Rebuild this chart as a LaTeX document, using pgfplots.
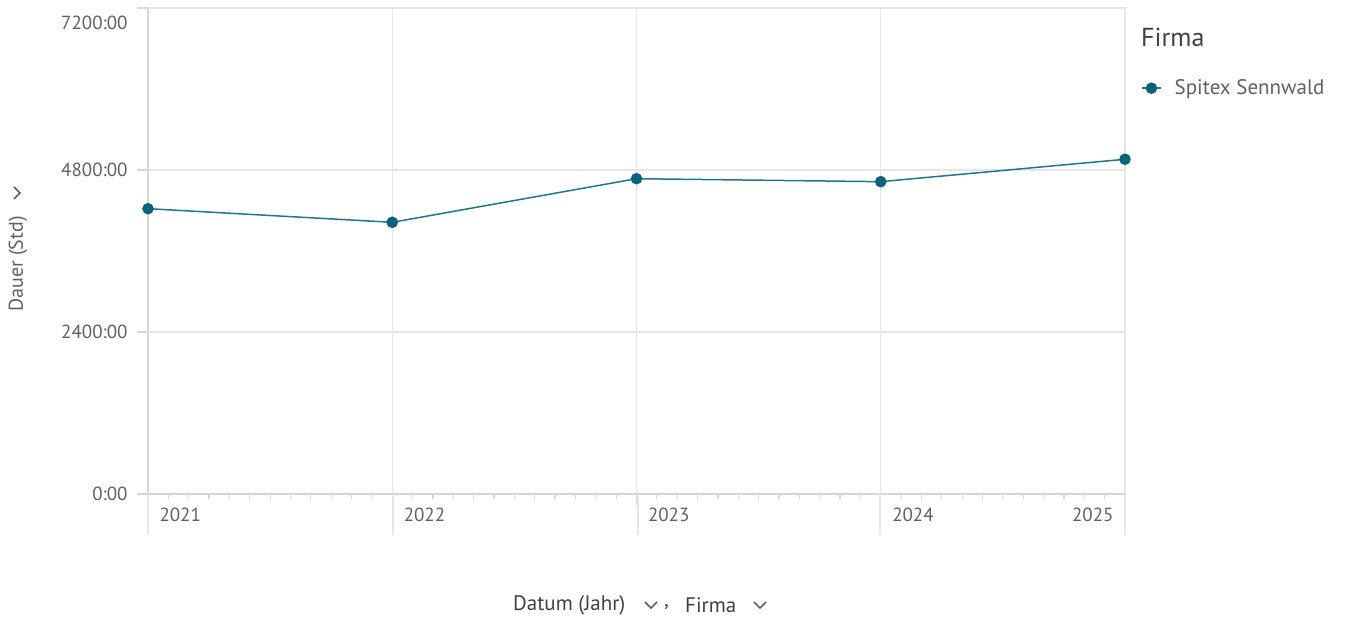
\documentclass[border=0pt]{standalone}
\usepackage{fontspec}
\setmainfont{PT Sans}
\usepackage{pgfplots}
\pgfplotsset{compat=1.18}
\definecolor{serie}{RGB}{30,118,143}
\definecolor{seriemark}{RGB}{8,98,124}
\definecolor{gridc}{RGB}{230,230,230}
\definecolor{axisc}{RGB}{214,214,214}
\definecolor{tick}{RGB}{96,96,96}
\definecolor{ttl}{RGB}{64,64,64}
\begin{document}
\begin{tikzpicture}
\useasboundingbox (0bp,0bp) rectangle (1350bp,619bp);
\begin{axis}[
  at={(148bp,125bp)}, anchor=south west,
  scale only axis, width=977bp, height=486bp,
  xmin=2021, xmax=2025, ymin=0, ymax=7200,
  clip=false,
  axis line style={axisc, line width=1.2bp},
  grid=major, grid style={gridc, line width=1.2bp},
  tick align=outside, major tick length=11bp, minor tick length=5bp,
  tick style={axisc, line width=1.2bp},
  xtick pos=bottom, ytick pos=left,
  xtick={2021,2022,2023,2024,2025},
  xticklabels={2021,2022,2023,2024,{}},
  minor x tick num=11,
  extra x ticks={2025}, extra x tick labels={2025},
  extra x tick style={xticklabel style={anchor=north east, xshift=-16bp}},
  xticklabel style={anchor=north west, xshift=8bp, yshift=1bp},
  ytick={0,2400,4800},
  yticklabels={0:00,2400:00,4800:00},
  extra y ticks={7200}, extra y tick labels={7200:00},
  extra y tick style={yticklabel style={anchor=north east, yshift=-4bp}},
  yticklabel style={xshift=-6bp},
  ticklabel style={font=\fontsize{19bp}{22bp}\selectfont, text=tick},
  legend style={at={(1.0164,0.835)}, anchor=west, draw=none, fill=none,
    inner sep=0pt, font=\fontsize{21bp}{25bp}\selectfont, text=tick},
  legend cell align=left,
  legend image code/.code={
    \draw[#1,mark=none] (0bp,0bp) -- (19bp,0bp);
    \draw[#1] plot coordinates {(9.5bp,0bp)};
  },
]
\addplot[serie, line width=1.5bp, mark=*, mark size=5bp,
  mark options={fill=seriemark, draw=seriemark}] coordinates {
  (2021,4227) (2022,4025) (2023,4671) (2024,4627) (2025,4959)
};
\addlegendentry{\hspace{11bp}Spitex Sennwald}
\end{axis}
% grid lines run on below the x axis
\foreach \gx in {148,393,638,880,1125}{
  \draw[gridc, line width=1.2bp] (\gx bp,125bp) -- (\gx bp,84bp);
}
% legend title
\node[anchor=west, inner sep=0pt, text=ttl, font=\fontsize{26bp}{30bp}\selectfont]
  at (1141bp,582bp) {Firma};
% y axis title with chevron
\node[rotate=90, inner sep=0pt, text=tick, font=\fontsize{20bp}{24bp}\selectfont]
  at (18bp,355bp) {Dauer (Std)};
\draw[tick, line width=1.5bp] (14bp,432bp) -- (20bp,426bp) -- (14bp,420bp);
% x axis title with chevrons
\begin{scope}[font=\fontsize{21bp}{25bp}\selectfont]
\node[anchor=west, inner sep=0pt, text=ttl] at (513bp,14bp) {Datum (Jahr)};
\draw[tick, line width=1.5bp] (645bp,17bp) -- (651bp,11bp) -- (657bp,17bp);
\node[anchor=west, inner sep=0pt, text=ttl] at (664bp,12bp) {,};
\node[anchor=west, inner sep=0pt, text=ttl] at (685bp,14bp) {Firma};
\draw[tick, line width=1.5bp] (754bp,17bp) -- (760bp,11bp) -- (766bp,17bp);
\end{scope}
\end{tikzpicture}
\end{document}
